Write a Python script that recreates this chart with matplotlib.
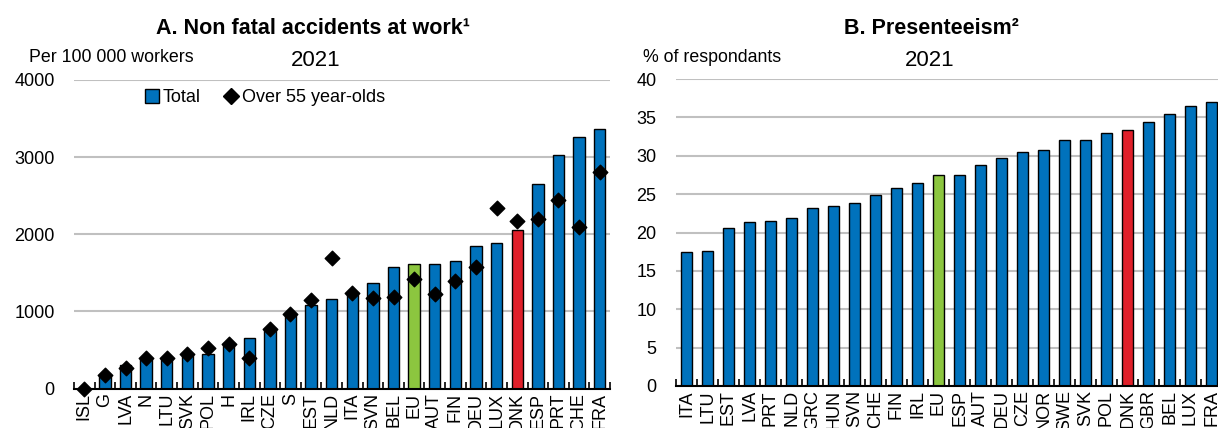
import matplotlib
matplotlib.use("Agg")
import matplotlib.pyplot as plt
from matplotlib.lines import Line2D
import numpy as np

plt.rcParams['font.family'] = ['Liberation Sans', 'DejaVu Sans']

# Panel A: non fatal accidents at work, per 100 000 workers, 2021
acc_countries = ["ISL", "G", "LVA", "N", "LTU", "SVK", "POL", "H", "IRL", "CZE", "S", "EST", "NLD",
                 "ITA", "SVN", "BEL", "EU", "AUT", "FIN", "DEU", "LUX", "DNK", "ESP", "PRT", "CHE", "FRA"]
acc_total = [0, 160, 300, 380, 400, 430, 450, 590, 650, 790, 960, 1080, 1160,
             1240, 1370, 1580, 1620, 1620, 1650, 1850, 1890, 2060, 2650, 3030, 3260, 3360]
acc_over55 = [0, 180, 270, 390, 400, 450, 530, 580, 390, 770, 970, 1150, 1690,
              1240, 1170, 1190, 1420, 1230, 1390, 1570, 2340, 2170, 2200, 2440, 2100, 2810]

# Panel B: presenteeism, % of respondants, 2021
pres_countries = ["ITA", "LTU", "EST", "LVA", "PRT", "NLD", "GRC", "HUN", "SVN", "CHE", "FIN", "IRL", "EU",
                  "ESP", "AUT", "DEU", "CZE", "NOR", "SWE", "SVK", "POL", "DNK", "GBR", "BEL", "LUX", "FRA"]
pres_values = [17.4, 17.6, 20.6, 21.4, 21.5, 21.9, 23.2, 23.5, 23.8, 24.9, 25.8, 26.4, 27.5,
               27.5, 28.8, 29.7, 30.5, 30.7, 32.0, 32.1, 32.9, 33.3, 34.4, 35.4, 36.5, 37.0]

BLUE = "#0072BC"
GREEN = "#8CC63F"
RED = "#E0202A"
GRID = "#C0C0C0"


def bar_colors(names):
    cols = []
    for n in names:
        if n == "EU":
            cols.append(GREEN)
        elif n == "DNK":
            cols.append(RED)
        else:
            cols.append(BLUE)
    return cols


def style_axis(ax, names, ymax, step):
    x = np.arange(len(names))
    ax.set_xlim(-0.5, len(names) - 0.5)
    ax.set_ylim(0, ymax)
    ax.set_yticks(np.arange(0, ymax + step, step))
    ax.yaxis.grid(True, color=GRID, lw=1.5)
    ax.set_axisbelow(True)
    for s in ["top", "right", "left"]:
        ax.spines[s].set_visible(False)
    ax.spines["bottom"].set_linewidth(1.5)
    ax.set_xticks(x)
    ax.set_xticklabels(names, rotation=90, fontsize=13)
    ax.set_xticks(np.arange(-0.5, len(names), 1), minor=True)
    ax.tick_params(axis="x", which="major", length=0, pad=3)
    ax.tick_params(axis="x", which="minor", direction="in", length=5, width=1.2)
    ax.tick_params(axis="y", length=0, labelsize=13, pad=14)


fig = plt.figure(figsize=(12.18, 4.28), dpi=100)

# Panel A
axA = fig.add_axes([74 / 1218, 1 - 388.5 / 428, 536 / 1218, 308.5 / 428])
style_axis(axA, acc_countries, 4000, 1000)
xa = np.arange(len(acc_countries))
axA.bar(xa, acc_total, width=0.55, color=bar_colors(acc_countries), edgecolor="black", lw=1, zorder=2)
axA.scatter(xa, acc_over55, marker="D", s=55, color="black", zorder=3, clip_on=False)

handles = [Line2D([], [], marker="s", ls="none", markersize=10, markerfacecolor=BLUE, markeredgecolor="black"),
           Line2D([], [], marker="D", ls="none", markersize=8, color="black")]
fig.legend(handles, ["Total", "Over 55 year-olds"], loc="center", bbox_to_anchor=(264 / 1218, 1 - 98 / 428),
           ncol=2, frameon=False, fontsize=13, handletextpad=0.1, columnspacing=1.2, handlelength=1.0)

fig.text(313 / 1218, 1 - 28.5 / 428, "A. Non fatal accidents at work\u00b9", ha="center", va="center",
         fontsize=15.5, fontweight="bold")
fig.text(316 / 1218, 1 - 60 / 428, "2021", ha="center", va="center", fontsize=16)
fig.text(29 / 1218, 1 - 57.5 / 428, "Per 100 000 workers", ha="left", va="center", fontsize=12.8)

# Panel B
axB = fig.add_axes([676 / 1218, 1 - 386 / 428, 546 / 1218, 307 / 428])
style_axis(axB, pres_countries, 40, 5)
xb = np.arange(len(pres_countries))
axB.bar(xb, pres_values, width=0.55, color=bar_colors(pres_countries), edgecolor="black", lw=1, zorder=2)

fig.text(931 / 1218, 1 - 28.5 / 428, "B. Presenteeism\u00b2", ha="center", va="center",
         fontsize=15.5, fontweight="bold")
fig.text(930 / 1218, 1 - 60 / 428, "2021", ha="center", va="center", fontsize=16)
fig.text(643 / 1218, 1 - 57.5 / 428, "% of respondants", ha="left", va="center", fontsize=12.8)

fig.savefig("out.png", dpi=100)
